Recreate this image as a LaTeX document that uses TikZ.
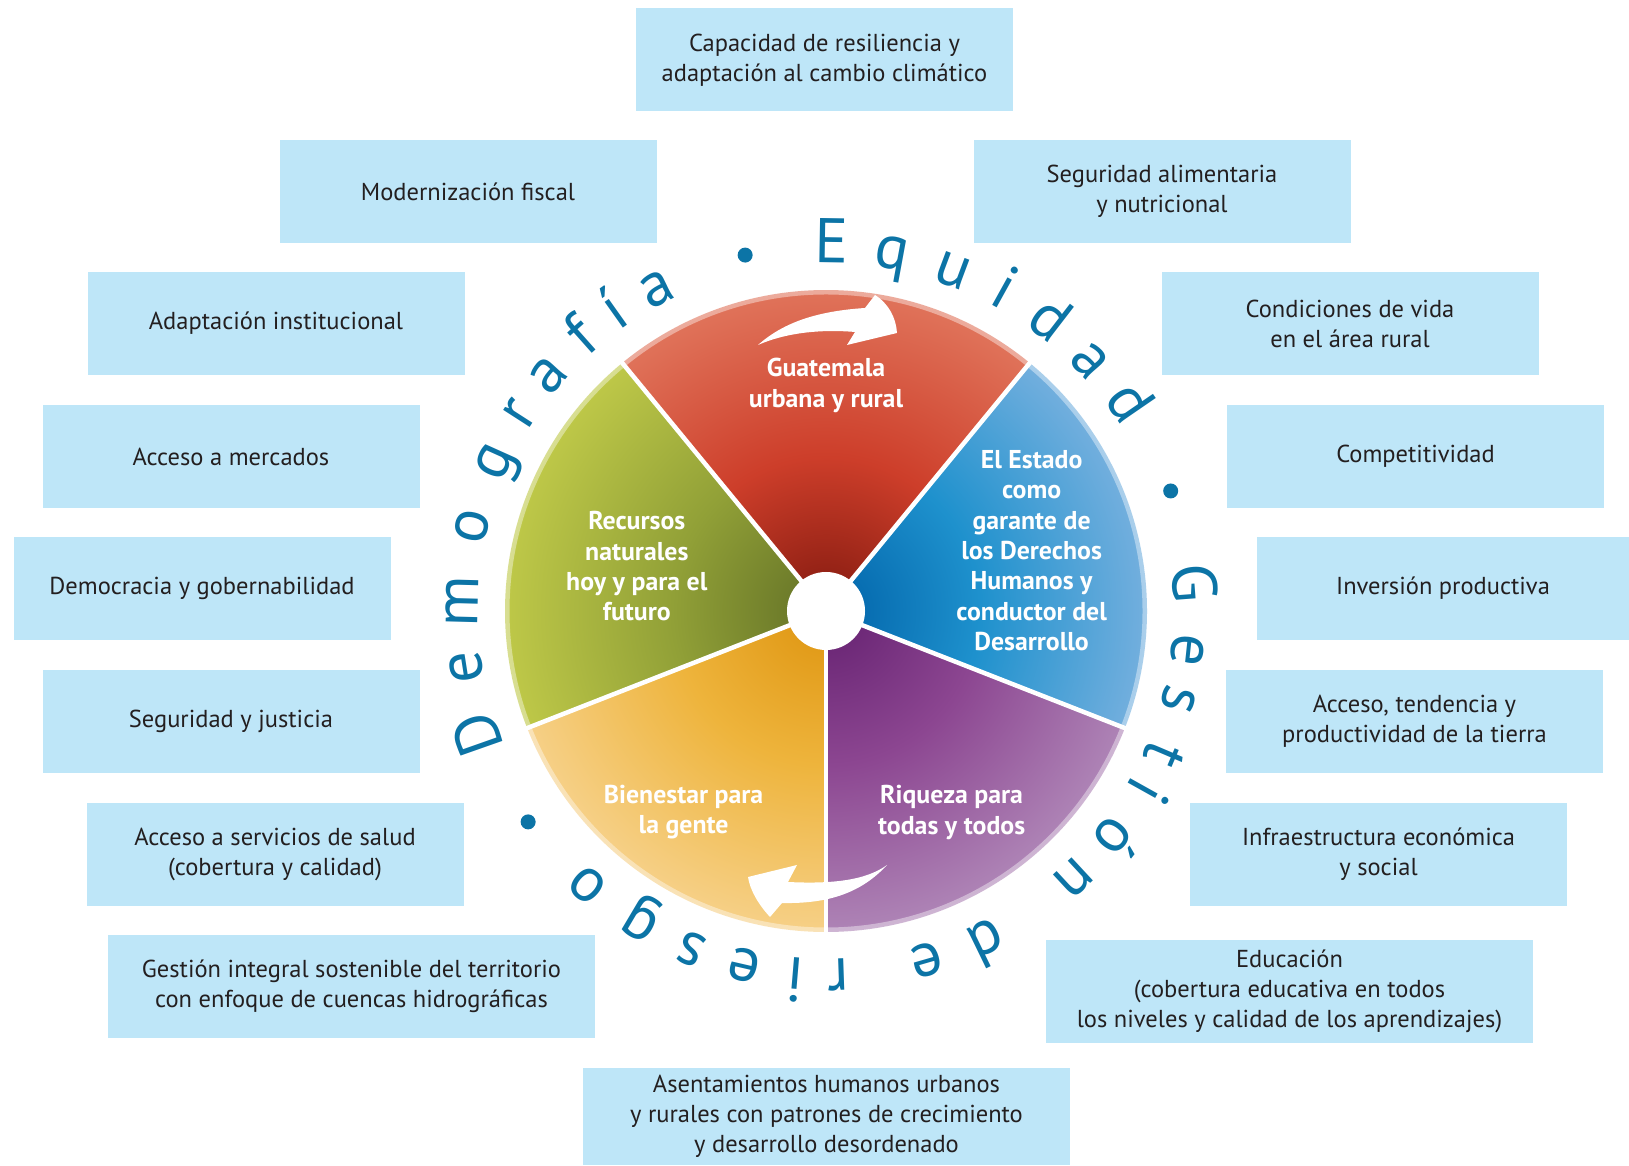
\documentclass[tikz,border=0pt]{standalone}
\usepackage{fontspec}
\setmainfont{PT Sans}

\definecolor{boxblue}{RGB}{190,230,248}
\definecolor{boxtext}{RGB}{35,31,32}
\definecolor{ringblue}{RGB}{12,116,166}

% wheel colours: centre, middle, rim
\definecolor{redc}{RGB}{130,25,15}
\definecolor{redm}{RGB}{205,62,42}
\definecolor{redr}{RGB}{224,115,90}
\definecolor{bluec}{RGB}{0,98,168}
\definecolor{bluem}{RGB}{30,145,205}
\definecolor{bluer}{RGB}{115,175,222}
\definecolor{purplec}{RGB}{100,32,112}
\definecolor{purplem}{RGB}{140,70,145}
\definecolor{purpler}{RGB}{174,132,182}
\definecolor{yellowc}{RGB}{222,148,15}
\definecolor{yellowm}{RGB}{238,180,60}
\definecolor{yellowr}{RGB}{246,208,135}
\definecolor{greenc}{RGB}{98,112,38}
\definecolor{greenm}{RGB}{145,160,55}
\definecolor{greenr}{RGB}{190,200,72}

\newcommand\wheelshade[4]{\pgfdeclareradialshading{#1}{\pgfpointorigin}{color(0bp)=(#2); color(12bp)=(#3); color(25bp)=(#4); color(50bp)=(#4)}}
\wheelshade{redwheel}{redc}{redm}{redr}
\wheelshade{bluewheel}{bluec}{bluem}{bluer}
\wheelshade{purplewheel}{purplec}{purplem}{purpler}
\wheelshade{yellowwheel}{yellowc}{yellowm}{yellowr}
\wheelshade{greenwheel}{greenc}{greenm}{greenr}

\tikzset{
  themebox/.style={fill=boxblue, text=boxtext, minimum width=377pt, minimum height=103pt,
    align=center, inner sep=0pt, font=\fontsize{24.5}{30}\selectfont},
  widebox/.style={themebox, minimum width=487pt},
  sectorlabel/.style={text=white, align=center, font=\bfseries\fontsize{25.8}{30.3}\selectfont},
  ringletter/.style={text=ringblue, anchor=base, inner sep=0pt, font=\fontsize{63}{63}\selectfont},
}

\begin{document}
\begin{tikzpicture}[x=1pt, y=1pt]
    \useasboundingbox (0,0) rectangle (1629,1166);

    % themes round the wheel
    \node[themebox] (clima) at (824.5,1106) {Capacidad de resiliencia y\\adaptación al cambio climático};
    \node[themebox] (fiscal) at (468,974.5) {Modernización fiscal};
    \node[themebox] (instit) at (276,842.5) {Adaptación institucional};
    \node[themebox] (mercados) at (231,709.5) {Acceso a mercados};
    \node[themebox] (democracia) at (202,577.5) {Democracia y gobernabilidad};
    \node[themebox] (justicia) at (231,444.5) {Seguridad y justicia};
    \node[themebox] (salud) at (275,311.5) {Acceso a servicios de salud\\(cobertura y calidad)};
    \node[widebox] (territorio) at (351.5,179.5) {Gestión integral sostenible del territorio\\con enfoque de cuencas hidrográficas};
    \node[widebox, minimum height=97pt] (asentam) at (826.5,49.5) {Asentamientos humanos urbanos\\y rurales con patrones de crecimiento\\y desarrollo desordenado};
    \node[themebox] (aliment) at (1162,974.5) {Seguridad alimentaria\\y nutricional};
    \node[themebox] (rural) at (1350,842.5) {Condiciones de vida\\en el área rural};
    \node[themebox] (compet) at (1415.5,709.5) {Competitividad};
    \node[themebox, minimum width=372pt] (inversion) at (1443,577.5) {Inversión productiva};
    \node[themebox] (tierra) at (1414.5,444.5) {Acceso, tendencia y\\productividad de la tierra};
    \node[themebox] (infra) at (1378.5,311.5) {Infraestructura económica\\y social};
    \node[widebox] (educacion) at (1289.5,174.5) {Educación\\(cobertura educativa en todos\\los niveles y calidad de los aprendizajes)};

    % wheel
    \begin{scope}[shift={(826,555)}]
        \foreach \a/\b/\s in {50.6/129.4/redwheel, 129.4/201.4/greenwheel,
            201.4/270/yellowwheel, 270/338.6/purplewheel, -21.4/50.6/bluewheel} {
            \begin{scope}
                \clip (0,0) -- (\a:321) arc (\a:\b:321) -- cycle;
                \shade[shading=\s] (0,0) circle (321);
            \end{scope}
        }
        \draw[white, opacity=0.4, line width=5pt] (0,0) circle (319);
        \foreach \a in {50.6, 129.4, 201.4, 270, 338.6} {\draw[white, line width=4.5pt] (0,0) -- (\a:323);}
        \fill[white] (0,0) circle (39);

        % text round the wheel
        \foreach \a/\l [count=\i] in {199.4/D, 188.9/e, 178.5/m, 166.6/o, 155.8/g, 147.2/r, 139.7/a, 131.6/f, 125.3/í, 117.7/a,
            89.1/E, 79.6/q, 69.5/u, 61/i, 52.4/d, 43.5/a, 34.5/d,
            4.3/G, -6.1/e, -14.1/s, -23/t, -29.2/i, -38.1/ó, -47.2/n, -64.1/d, -73.9/e,
            -88/r, -94.8/i, -103/e, -111.7/s, -120.7/g, -131/o}
            {\node[ringletter, rotate=\a-90] (l\i) at (\a:348) {\l};}
        \foreach \a in {102.8, 19.2, -144.7} {\fill[ringblue] (\a:365) circle (7.5);}
    \end{scope}

    % sector labels
    \node[sectorlabel] (guatemala) at (826,780.6) {Guatemala\\urbana y rural};
    \node[sectorlabel] (estado) at (1031.6,615.4) {El Estado\\como\\garante de\\los Derechos\\Humanos y\\conductor del\\Desarrollo};
    \node[sectorlabel] (recursos) at (636.8,599.8) {Recursos\\naturales\\hoy y para el\\futuro};
    \node[sectorlabel] (bienestar) at (683.6,353.6) {Bienestar para\\la gente};
    \node[sectorlabel] (riqueza) at (951.6,353.6) {Riqueza para\\todas y todos};

    % turning arrows
    \fill[white] (758,821) .. controls (785,845) and (820,855) .. (865,858) -- (875,871)
        .. controls (889,862) and (896,848) .. (897,833) -- (847,821) -- (855,834)
        .. controls (820,837) and (785,833) .. cycle;
    \fill[white] (887,301) .. controls (862,274) and (830,262) .. (782,263) -- (770,249)
        .. controls (758,262) and (750,276) .. (748,289) -- (797,301) -- (788,284)
        .. controls (830,282) and (865,285) .. cycle;
\end{tikzpicture}
\end{document}
